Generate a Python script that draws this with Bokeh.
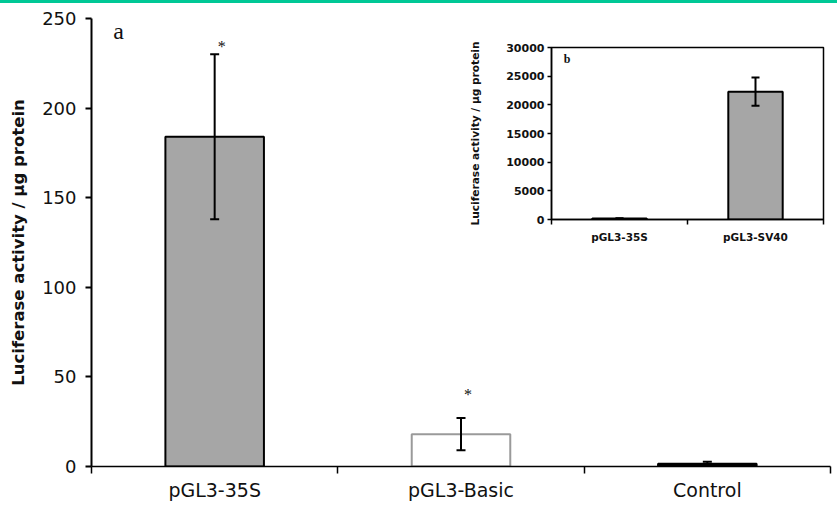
from bokeh.plotting import figure
from bokeh.models import (Range1d, FixedTicker, Whisker, TeeHead, ColumnDataSource,
                          NumeralTickFormatter, Label, Spacer)
from bokeh.layouts import column
from bokeh.core.properties import value
from bokeh.embed import file_html
from bokeh.resources import INLINE

# ---------------- data ----------------
categories = ["pGL3-35S", "pGL3-Basic", "Control"]
activity = [184, 18, 1.5]
activity_err = [46, 9, 1.2]
significance = ["*", "*", ""]
main_yticks = [0, 50, 100, 150, 200, 250]

inset_categories = ["pGL3-35S", "pGL3-SV40"]
inset_activity = [184, 22300]
inset_err = [46, 2450]
inset_yticks = [0, 5000, 10000, 15000, 20000, 25000, 30000]

y_title = "Luciferase activity / µg protein"

# ---------------- styles ----------------
bar_fill = ["#a6a6a6", "#ffffff", "#000000"]
bar_line = ["#000000", "#9a9a9a", "#000000"]
star_offset = [-8, -24, 0]
TXT = "#111111"

# ---------------- main chart ----------------
x = [i + 0.5 for i in range(len(categories))]
src = ColumnDataSource(dict(
    x=x, top=activity,
    upper=[v + e for v, e in zip(activity, activity_err)],
    lower=[v - e for v, e in zip(activity, activity_err)],
    fill=bar_fill, line=bar_line, sig=significance, soff=star_offset))

p = figure(width=837, height=504, x_range=Range1d(0, len(categories)),
           y_range=Range1d(0, 250), output_backend="svg", toolbar_location=None,
           min_border_left=91, min_border_right=1, min_border_top=15,
           min_border_bottom=41)
p.xgrid.visible = False
p.ygrid.visible = False
p.outline_line_color = None
p.background_fill_color = "white"
p.border_fill_color = "white"

p.vbar(x="x", top="top", bottom=0, width=0.4, fill_color="fill",
       line_color="line", line_width=2, source=src)
wh = Whisker(base="x", upper="upper", lower="lower", source=src,
             line_width=2, line_color="black",
             upper_head=TeeHead(size=9, line_width=2),
             lower_head=TeeHead(size=9, line_width=2))
wh.level = "overlay"
p.add_layout(wh)
p.text(x="x", y="upper", text="sig", y_offset="soff", x_offset=7,
       text_font=value("Liberation Serif"), text_font_size="16px",
       text_align="center", text_baseline="middle", text_color=TXT, source=src)

ya = p.yaxis[0]
ya.ticker = FixedTicker(ticks=main_yticks)
ya.major_tick_out = 6
ya.major_tick_in = 0
ya.minor_tick_out = 0
ya.minor_tick_in = 0
ya.axis_line_width = 2
ya.major_tick_line_width = 2
ya.major_label_text_font = "DejaVu Sans"
ya.major_label_text_font_size = "18px"
ya.major_label_text_color = TXT
ya.major_label_standoff = 9
ya.axis_label = y_title
ya.axis_label_text_font = "DejaVu Sans"
ya.axis_label_text_font_style = "bold"
ya.axis_label_text_font_size = "16.5px"
ya.axis_label_text_color = TXT
ya.axis_label_standoff = 11

xa = p.xaxis[0]
xa.ticker = FixedTicker(ticks=x, minor_ticks=list(range(len(categories) + 1)))
xa.major_label_overrides = {xv: c for xv, c in zip(x, categories)}
xa.major_tick_out = 0
xa.major_tick_in = 0
xa.minor_tick_out = 7
xa.minor_tick_in = 0
xa.minor_tick_line_width = 1.5
xa.axis_line_width = 1.5
xa.major_label_text_font = "DejaVu Sans"
xa.major_label_text_font_size = "19px"
xa.major_label_text_color = TXT
xa.major_label_standoff = 5

p.add_layout(Label(x=0.11, y=243, text="a", text_font="Liberation Serif",
                   text_font_size="24px", text_align="center",
                   text_baseline="middle", text_color=TXT))

# ---------------- inset chart ----------------
ix = [i + 0.5 for i in range(len(inset_categories))]
isrc = ColumnDataSource(dict(
    x=ix, top=inset_activity,
    upper=[v + e for v, e in zip(inset_activity, inset_err)],
    lower=[v - e for v, e in zip(inset_activity, inset_err)]))

ip = figure(width=370, height=215, x_range=Range1d(0, len(inset_categories)),
            y_range=Range1d(0, 30000), output_backend="svg", toolbar_location=None,
            min_border_left=87, min_border_right=7, min_border_top=17,
            min_border_bottom=25)
ip.styles = {"position": "absolute", "left": "460px", "top": "30px"}
ip.xgrid.visible = False
ip.ygrid.visible = False
ip.outline_line_color = "black"
ip.outline_line_width = 1.5
ip.background_fill_color = "white"
ip.border_fill_color = "white"

ip.vbar(x="x", top="top", bottom=0, width=0.4, fill_color="#a6a6a6",
        line_color="black", line_width=2, source=isrc)
iwh = Whisker(base="x", upper="upper", lower="lower", source=isrc,
              line_width=2, line_color="black",
              upper_head=TeeHead(size=8, line_width=2),
              lower_head=TeeHead(size=8, line_width=2))
iwh.level = "overlay"
ip.add_layout(iwh)

iya = ip.yaxis[0]
iya.ticker = FixedTicker(ticks=inset_yticks)
iya.formatter = NumeralTickFormatter(format="0")
iya.major_tick_out = 4
iya.major_tick_in = 0
iya.minor_tick_out = 0
iya.minor_tick_in = 0
iya.axis_line_width = 1.5
iya.major_tick_line_width = 1.5
iya.major_label_text_font = "DejaVu Sans"
iya.major_label_text_font_style = "bold"
iya.major_label_text_font_size = "11px"
iya.major_label_text_color = TXT
iya.major_label_standoff = 3
iya.axis_label = y_title
iya.axis_label_text_font = "DejaVu Sans"
iya.axis_label_text_font_style = "bold"
iya.axis_label_text_font_size = "10.6px"
iya.axis_label_text_color = TXT
iya.axis_label_standoff = 22

ixa = ip.xaxis[0]
ixa.ticker = FixedTicker(ticks=ix, minor_ticks=list(range(len(inset_categories) + 1)))
ixa.major_label_overrides = {xv: c for xv, c in zip(ix, inset_categories)}
ixa.major_tick_out = 0
ixa.major_tick_in = 0
ixa.minor_tick_out = 5
ixa.minor_tick_in = 0
ixa.minor_tick_line_width = 1.5
ixa.axis_line_width = 1.5
ixa.major_label_text_font = "DejaVu Sans"
ixa.major_label_text_font_style = "bold"
ixa.major_label_text_font_size = "10.5px"
ixa.major_label_text_color = TXT
ixa.major_label_standoff = 6

ip.add_layout(Label(x=0.114, y=27990, text="b", text_font="Liberation Serif",
                    text_font_style="bold", text_font_size="12px",
                    text_align="center", text_baseline="middle", text_color=TXT))

top_rule = Spacer(width=837, height=3, styles={"background-color": "#00c896"})

layout = column(top_rule, p, ip, spacing=0)
open("out.html", "w").write(file_html(layout, INLINE))
